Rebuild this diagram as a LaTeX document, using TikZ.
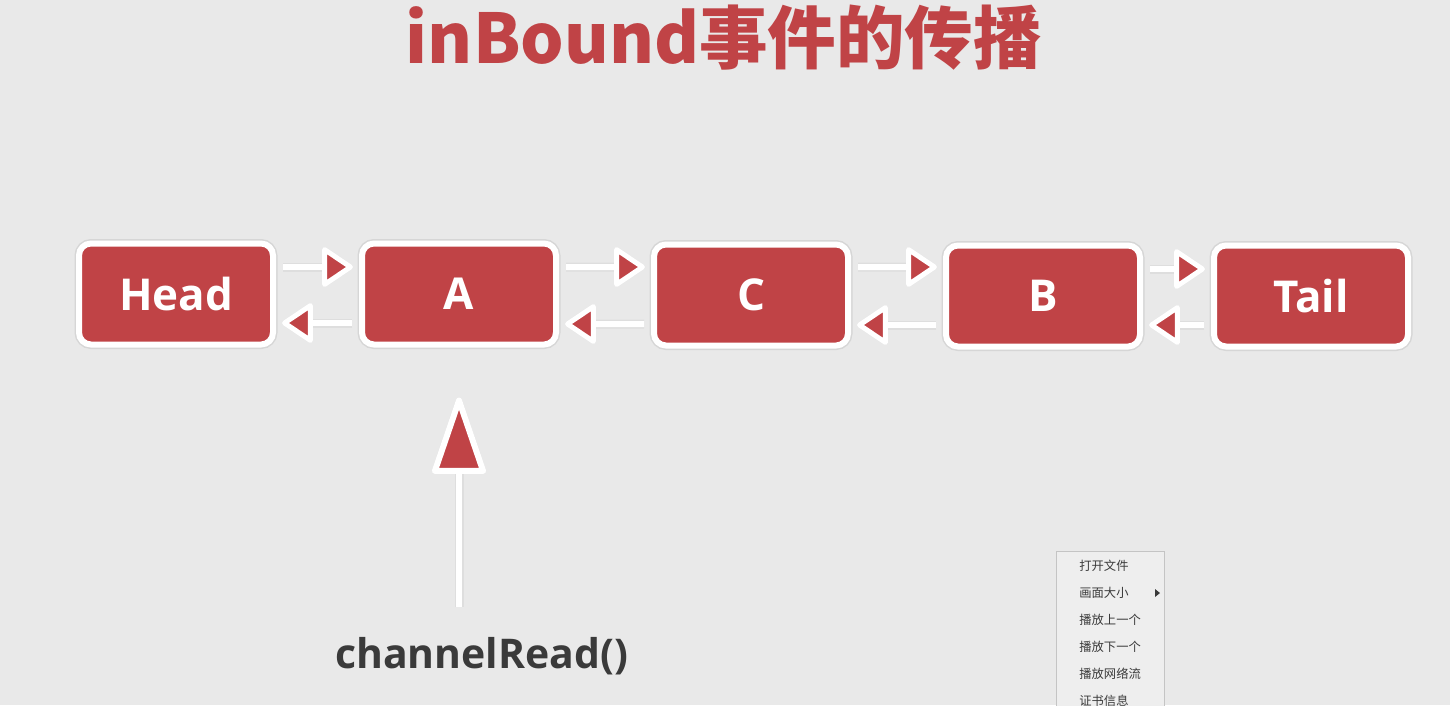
\documentclass[tikz,border=0pt]{standalone}
\usepackage{fontspec}
\setmainfont{Open Sans}
\newfontfamily\cjk{Noto Sans CJK SC}
\usetikzlibrary{arrows.meta,positioning}
\definecolor{boxred}{HTML}{C04346}
\definecolor{pagegray}{HTML}{E9E9E9}
\definecolor{textgray}{HTML}{3A3A3A}
\definecolor{menubg}{HTML}{EEEEEE}
\definecolor{menuline}{HTML}{C4C4C4}

\begin{document}
\begin{tikzpicture}[>={Triangle[length=.66cm,width=.86cm,line width=.1cm,fill=boxred,round]},
  box/.style={fill=boxred,draw=white,line width=.12cm,rounded corners=.24cm,minimum width=3.88cm,minimum height=2.02cm,text=white,font=\bfseries\fontsize{25}{25}\selectfont,preaction={draw=black!16,line width=.18cm}},
  link/.style={draw=white,line width=.12cm,preaction={draw=black!13,line width=.18cm}},
  item/.style={anchor=west,text=textgray,font=\cjk\fontsize{7}{8}\selectfont,inner sep=0pt}]
\clip (0,0) rectangle (29,-14.1);
\fill[pagegray] (0,0) rectangle (29,-14.1);
% title
\node[anchor=base,text=boxred,font=\cjk\bfseries\fontsize{39}{39}\selectfont] (title) at (14.48,-1.26) {inBound事件的传播};
% handler chain
\node[box] (head) at (3.52,-5.88) {Head};
\node[box] (a) at (9.18,-5.88) {A};
\node[box] (c) at (15.02,-5.90) {C};
\node[box] (b) at (20.86,-5.92) {B};
\node[box] (tail) at (26.22,-5.92) {Tail};
\draw[link,->] ([xshift=.14cm,yshift=.54cm]head.east) -- ([xshift=-.12cm,yshift=.54cm]a.west);
\draw[link,->] ([xshift=-.14cm,yshift=-.58cm]a.west) -- ([xshift=.12cm,yshift=-.58cm]head.east);
\draw[link,->] ([xshift=.14cm,yshift=.54cm]a.east) -- ([xshift=-.12cm,yshift=.56cm]c.west);
\draw[link,->] ([xshift=-.14cm,yshift=-.58cm]c.west) -- ([xshift=.12cm,yshift=-.60cm]a.east);
\draw[link,->] ([xshift=.14cm,yshift=.56cm]c.east) -- ([xshift=-.12cm,yshift=.58cm]b.west);
\draw[link,->] ([xshift=-.14cm,yshift=-.58cm]b.west) -- ([xshift=.12cm,yshift=-.60cm]c.east);
\draw[link,->] ([xshift=.14cm,yshift=.54cm]b.east) -- ([xshift=-.12cm,yshift=.54cm]tail.west);
\draw[link,->] ([xshift=-.14cm,yshift=-.58cm]tail.west) -- ([xshift=.12cm,yshift=-.58cm]b.east);
% event source
\node[anchor=base,text=textgray,font=\bfseries\fontsize{23.3}{24}\selectfont] (read) at (9.63,-13.36) {channelRead()};
\coordinate (src) at (9.18,-12.14);
\draw[link,-{Triangle[length=1.66cm,width=1.1cm,line width=.12cm,fill=boxred,round]}] (src) -- ([yshift=-1.0cm]a.south);
% player menu
\filldraw[fill=menubg,draw=menuline,line width=.5pt] (21.12,-11.02) rectangle (23.28,-14.6);
\node[item] (m1) at (21.58,-11.32) {打开文件};
\node[item] (m2) at (21.58,-11.86) {画面大小};
\node[item] (m3) at (21.58,-12.40) {播放上一个};
\node[item] (m4) at (21.58,-12.94) {播放下一个};
\node[item] (m5) at (21.58,-13.48) {播放网络流};
\node[item] (m6) at (21.58,-14.02) {证书信息};
\fill[textgray] (23.10,-11.78) -- (23.20,-11.86) -- (23.10,-11.94) -- cycle;
\end{tikzpicture}
\end{document}
